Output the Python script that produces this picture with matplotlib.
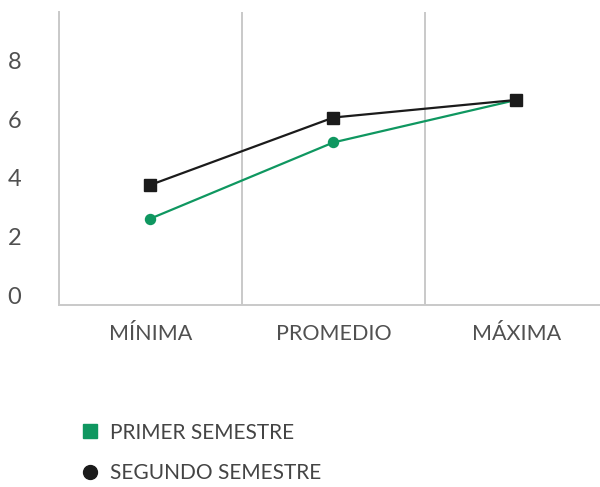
import matplotlib
matplotlib.use("Agg")
import matplotlib.pyplot as plt
import matplotlib.transforms as mtransforms
from matplotlib.lines import Line2D

categorias = ["MÍNIMA", "PROMEDIO", "MÁXIMA"]
primer_semestre = [2.95, 5.55, 7.0]
segundo_semestre = [4.1, 6.4, 7.0]
ticks_y = [0, 2, 4, 6, 8]

verde = "#0f9760"
negro = "#1b1b1b"
gris = "#c9c9c9"
texto = "#505050"

plt.rcParams["font.family"] = ["Lato", "DejaVu Sans"]

fig = plt.figure(figsize=(6.0, 4.87), dpi=100)
ax = fig.add_axes([0.0983, 0.3737, 0.915, 0.6016])

x = list(range(len(categorias)))
ax.plot(x, primer_semestre, color=verde, lw=1.6, marker="o", ms=7.2, zorder=3)
ax.plot(x, segundo_semestre, color=negro, lw=1.6, marker="s", ms=8, zorder=4)

ax.set_xlim(-0.5, len(categorias) - 0.5)
ax.set_ylim(0, 10)
ax.set_xticks(x)
ax.set_xticklabels(categorias)
ax.set_yticks(ticks_y)
ax.set_xticks([i + 0.5 for i in range(-1, len(categorias))], minor=True)
ax.grid(True, which="minor", axis="x", color=gris, lw=1.4)
ax.tick_params(which="both", length=0)
ax.tick_params(axis="x", labelsize=15.5, labelcolor=texto, pad=14)
ax.tick_params(axis="y", labelsize=17, labelcolor=texto, pad=37)

# etiquetas del eje y un poco por encima de su valor
desplaza = mtransforms.ScaledTranslation(0, 10 / 100, fig.dpi_scale_trans)
for lab in ax.get_yticklabels():
    lab.set_transform(lab.get_transform() + desplaza)
    lab.set_horizontalalignment("left")

for lado in ["top", "right"]:
    ax.spines[lado].set_visible(False)
for lado in ["left", "bottom"]:
    ax.spines[lado].set_color(gris)
    ax.spines[lado].set_linewidth(1.4)

manejadores = [
    Line2D([], [], ls="none", marker="s", ms=10, color=verde),
    Line2D([], [], ls="none", marker="o", ms=10, color=negro),
]
fig.legend(manejadores, ["PRIMER SEMESTRE", "SEGUNDO SEMESTRE"],
           loc="center left", bbox_to_anchor=(0.134, 0.0698),
           bbox_transform=fig.transFigure, frameon=False,
           fontsize=15, labelcolor="#444444", handletextpad=0.5,
           labelspacing=1.0, handlelength=0.9, borderpad=0, borderaxespad=0)

fig.savefig("out.png", dpi=100, facecolor="white")
